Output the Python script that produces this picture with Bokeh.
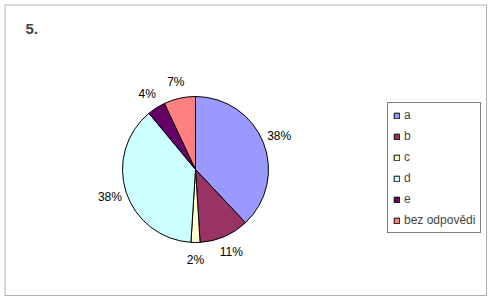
import math
from bokeh.plotting import figure
from bokeh.models import Range1d, ColumnDataSource, Legend, LegendItem, Label, BoxAnnotation
from bokeh.core.properties import value
from bokeh.embed import file_html
from bokeh.resources import INLINE

# ---- data ----
title_text = "5."
categories = ["a", "b", "c", "d", "e", "bez odpovědi"]
percents = [38, 11, 2, 38, 4, 7]
colors = ["#9999FF", "#993366", "#FFFFCC", "#CCFFFF", "#660066", "#FF8080"]

W, H = 490, 301
FONT = "Liberation Sans"

p = figure(width=W, height=H, output_backend="svg", toolbar_location=None,
           x_range=Range1d(0, W), y_range=Range1d(0, H),
           min_border=0, outline_line_color=None)
p.axis.visible = False
p.grid.visible = False
p.background_fill_color = "white"
p.border_fill_color = "white"

# outer chart border
p.add_layout(BoxAnnotation(left=4.5, right=486, bottom=H - 295, top=H - 4.5,
                           fill_alpha=0, line_color="black", line_width=1))

# pie geometry
cx, cy, r = 195, H - 169, 73
label_r = 90
total = float(sum(percents))
cum = [0.0]
for v in percents:
    cum.append(cum[-1] + v / total)

start, end, lx, ly, labels = [], [], [], [], []
for i, v in enumerate(percents):
    a0 = math.pi / 2 - 2 * math.pi * cum[i]
    a1 = math.pi / 2 - 2 * math.pi * cum[i + 1]
    start.append(a1)
    end.append(a0)
    mid = (a0 + a1) / 2
    lx.append(cx + label_r * math.cos(mid))
    ly.append(cy + label_r * math.sin(mid))
    labels.append(f"{v}%")

src = ColumnDataSource(dict(cat=categories, start=start, end=end, color=colors,
                            lx=lx, ly=ly, lab=labels))

renderers = []
for i in range(len(categories)):
    rr = p.wedge(x=cx, y=cy, radius=r, start_angle=start[i], end_angle=end[i],
                 fill_color=colors[i], line_color="black", line_width=1)
    renderers.append(rr)

p.text(x="lx", y="ly", text="lab", source=src, text_align="center",
       text_baseline="middle", text_font=value(FONT), text_font_size="12px",
       text_color="black")

p.add_layout(Label(x=25, y=H - 28, text=title_text, text_font=FONT,
                   text_font_size="15px", text_font_style="bold",
                   text_baseline="middle", text_align="left"))

legend = Legend(items=[LegendItem(label=c, renderers=[renderers[i]]) for i, c in enumerate(categories)],
                location=(387, H - 233), orientation="vertical",
                glyph_width=7, glyph_height=7, label_height=14, spacing=7,
                label_standoff=4, padding=5, margin=0,
                label_text_font=FONT, label_text_font_size="12px",
                label_text_baseline="middle",
                border_line_color="black", border_line_width=1,
                background_fill_color="white", background_fill_alpha=1)
p.add_layout(legend)

open("out.html", "w").write(file_html(p, INLINE))
